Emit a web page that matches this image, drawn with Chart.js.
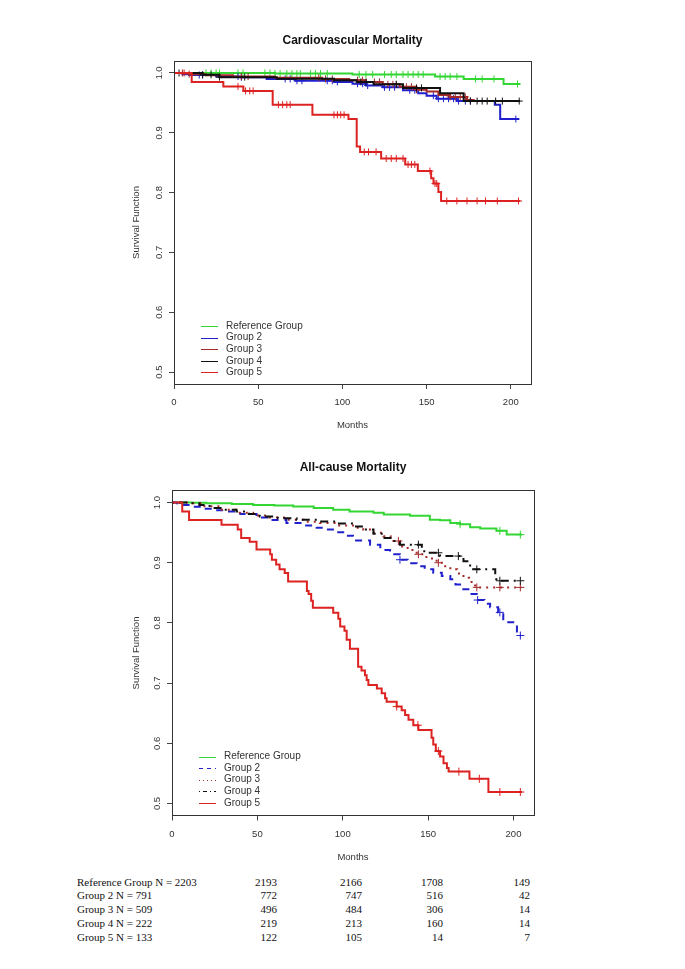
<!DOCTYPE html>
<html>
<head>
<meta charset="utf-8">
<title>Survival curves</title>
<script src="https://cdn.jsdelivr.net/npm/chart.js@4.4.1/dist/chart.umd.min.js"></script>
<style>
  body { margin: 0; background: #fff; }
  #page { position: relative; width: 685px; height: 969px; overflow: hidden; background: #fff; }
  canvas { position: absolute; left: 0; }
  #cv { top: 0; }
  #all { top: 440px; }
  #risk { position: absolute; left: 0; top: 875.6px; width: 685px; font: 11px "Liberation Serif", "Times New Roman", serif; color: #111; }
  .row { position: relative; height: 13.75px; line-height: 13.75px; }
  .row span { position: absolute; top: 0; white-space: nowrap; }
</style>
</head>
<body>
<div id="page">
  <canvas id="cv" width="685" height="440"></canvas>
  <canvas id="all" width="685" height="430"></canvas>
  <div id="risk"></div>
</div>
<script>
Chart.defaults.font.family = '"Liberation Sans", Arial, Helvetica, sans-serif';
Chart.defaults.color = '#333';

const groupNames = ["Reference Group", "Group 2", "Group 3", "Group 4", "Group 5"];
const groupColors = ["#33d633", "#2020cc", "#a52a2a", "#111111", "#dd2222"];
const monthTicks = [0, 50, 100, 150, 200];
const survTicks = [0.5, 0.6, 0.7, 0.8, 0.9, 1.0];

// Cardiovascular mortality: [month, survival after the drop]
const cvRef = [[0, 1], [60, 0.999], [106, 0.9975], [155, 0.994], [172, 0.990], [195.7, 0.9815], [205.5, 0.9815]];
const cvG2 = [[0, 1], [5, 0.998], [9, 0.9966], [25, 0.994], [40, 0.9927], [55, 0.990], [72, 0.987], [95, 0.985], [106, 0.982],
  [114, 0.979], [124, 0.976], [136, 0.971], [145, 0.966], [150, 0.962], [156, 0.957], [168, 0.953], [190.5, 0.947], [193.7, 0.923], [205, 0.923]];
const cvG3 = [[0, 1], [9, 0.998], [19, 0.996], [35, 0.994], [60, 0.992], [88, 0.990], [104, 0.988], [114, 0.985], [124, 0.981],
  [134, 0.977], [144, 0.972], [150, 0.969], [157, 0.963], [164, 0.960], [174, 0.955], [178, 0.953], [205, 0.953]];
const cvG4 = [[0, 1], [17, 0.997], [27, 0.993], [61, 0.9905], [95, 0.988], [108.5, 0.985], [118.5, 0.981], [136, 0.975],
  [158, 0.966], [172, 0.953], [205.5, 0.953]];
const cvG5 = [[0, 1], [10.5, 0.985], [29.3, 0.9775], [41.2, 0.970], [58.6, 0.947], [82.2, 0.930], [103.6, 0.923], [108.5, 0.877],
  [110.5, 0.868], [123, 0.857], [137.3, 0.847], [144.8, 0.836], [152.7, 0.824], [154.1, 0.815], [157, 0.801], [158.6, 0.786], [205.6, 0.786]];

// censored months (cardiovascular)
const cvRefCens = [19, 22, 25, 27, 38, 41, 54, 57, 60, 63, 67, 70, 73, 75, 81, 84, 87, 91, 110, 114, 118, 125, 129, 132,
  136, 139, 142, 145, 148, 158, 161, 164, 168, 179, 183, 190, 204];
const cvG2Cens = [15, 17, 38, 40, 66, 69, 73, 76, 91, 94, 97, 109, 112, 115, 125, 128, 131, 140, 143, 154, 157, 160, 163, 166, 169, 173, 176, 203];
const cvG3Cens = [5, 9, 40, 44, 86, 90, 94, 109, 112, 119, 122, 127, 130, 132, 138, 141, 144, 164, 167, 170, 173];
const cvG4Cens = [3, 17, 22, 27, 42, 111, 114, 132, 144, 147, 176, 180, 183, 186, 191, 195, 205];
const cvG5Cens = [6, 38, 42.5, 45, 47, 62, 64.5, 67, 69, 95, 97, 99, 101, 113, 115.5, 120, 126, 129, 132, 136, 139, 141, 143,
  152, 155, 156, 162, 168, 174, 180, 185, 192, 204.6];

// All-cause mortality
const acRef = [[0, 1], [12, 0.9995], [20, 0.999], [35, 0.9975], [47.5, 0.996], [60, 0.995], [71, 0.9934], [83, 0.991], [94.4, 0.988],
  [104, 0.985], [118, 0.983], [124, 0.980], [139.4, 0.978], [151, 0.9714], [157, 0.9705], [163, 0.966], [168.7, 0.964],
  [174.6, 0.9588], [180.5, 0.957], [190, 0.953], [196, 0.9467], [205, 0.9467]];
const acG2 = [[0, 1], [3, 0.999], [6.5, 0.996], [12, 0.993], [18, 0.9896], [25, 0.987], [32, 0.985], [40, 0.981], [49.5, 0.975],
  [58, 0.971], [67, 0.966], [76, 0.962], [84.7, 0.958], [90, 0.955], [96.4, 0.9505], [101, 0.945], [106, 0.937], [116, 0.930],
  [122, 0.921], [127.7, 0.914], [133.5, 0.905], [138, 0.899], [143.3, 0.894], [148, 0.889], [153, 0.8835], [158, 0.878],
  [163, 0.8725], [166, 0.864], [168.7, 0.856], [174.6, 0.848], [178.5, 0.838], [183, 0.832], [186.3, 0.826], [191, 0.8175],
  [194, 0.801], [202, 0.779], [204.3, 0.779]];
const acG3 = [[0, 1], [10, 0.999], [18, 0.994], [28, 0.988], [38, 0.983], [47.5, 0.9785], [57, 0.975], [67, 0.9714], [77, 0.968],
  [86.6, 0.966], [96, 0.962], [106, 0.958], [112, 0.955], [118, 0.950], [123.8, 0.944], [128, 0.936], [133.5, 0.927],
  [138, 0.921], [143.3, 0.914], [149, 0.907], [155, 0.900], [160, 0.894], [163, 0.889], [167, 0.882], [170.7, 0.875],
  [174, 0.868], [177.5, 0.859], [204.6, 0.859]];
const acG4 = [[0, 1], [10, 0.999], [16, 0.996], [22, 0.991], [30, 0.988], [37.8, 0.985], [45, 0.981], [51.4, 0.977], [62, 0.974],
  [73, 0.9714], [86.6, 0.9687], [96, 0.965], [106, 0.960], [112, 0.955], [118, 0.948], [123.8, 0.941], [128, 0.936],
  [133.5, 0.930], [146.3, 0.919], [149, 0.9165], [157, 0.911], [170.7, 0.9026], [174.6, 0.889], [189.3, 0.8725],
  [190, 0.870], [204.3, 0.870]];
const acG5 = [[0, 1], [6, 0.985], [10, 0.971], [29, 0.963], [38.5, 0.955], [40.5, 0.941], [45.5, 0.935], [49.5, 0.922],
  [57.5, 0.914], [58.5, 0.905], [61, 0.897], [63, 0.889], [66, 0.883], [68, 0.869], [79, 0.853], [80, 0.848], [81.5, 0.837],
  [82.5, 0.825], [94.4, 0.817], [97.4, 0.807], [98.5, 0.794], [101, 0.787], [102.3, 0.772], [104.2, 0.757], [109, 0.727],
  [111, 0.721], [113, 0.713], [114, 0.705], [115, 0.697], [120, 0.691], [122.8, 0.683], [124.8, 0.675], [125.7, 0.669],
  [131.6, 0.661], [134.5, 0.655], [136.5, 0.647], [138.5, 0.639], [141.3, 0.630], [144.3, 0.622], [152, 0.609], [153, 0.598],
  [154.5, 0.587], [157, 0.578], [159, 0.567], [161, 0.559], [162, 0.553], [174.2, 0.541], [185.3, 0.519], [205, 0.519]];

const acRefCens = [168.7, 192, 204];
const acG2Cens = [133.5, 179, 192, 204];
const acG3Cens = [132.6, 144.3, 156, 178.5, 192, 204];
const acG4Cens = [144.3, 156, 167.7, 178.5, 192, 204];
const acG5Cens = [131.6, 144, 156, 168, 180, 192, 204];

// numbers at risk
const riskLabels = ["Reference Group N = 2203", "Group 2 N = 791", "Group 3 N = 509", "Group 4 N = 222", "Group 5 N = 133"];
const riskCounts = [[2193, 2166, 1708, 149], [772, 747, 516, 42], [496, 484, 306, 14], [219, 213, 160, 14], [122, 105, 14, 7]];
const riskColRight = [277, 362, 443, 530];

function survAt(curve, t) {
    let s = 1;
    for (const [m, v] of curve) {
        if (m <= t) s = v; else break;
    }
    return s;
}

function buildDatasets(curves, cens, dashes, markSize) {
    const out = [];
    curves.forEach((c, i) => {
        out.push({
            label: groupNames[i],
            data: c.map(p => ({ x: p[0], y: p[1] })),
            borderColor: groupColors[i],
            borderWidth: 2,
            borderDash: dashes[i],
            stepped: "before",
            pointRadius: 0,
            fill: false,
            order: (5 - i) * 2
        });
        out.push({
            label: "",
            data: cens[i].map(t => ({ x: t, y: survAt(c, t) })),
            showLine: false,
            pointStyle: "cross",
            pointRadius: markSize,
            pointBorderWidth: 1,
            pointBorderColor: groupColors[i],
            borderColor: groupColors[i],
            order: (5 - i) * 2 - 1
        });
    });
    return out;
}

const framePlugin = {
    id: "frame",
    afterDraw(chart) {
        const { ctx, chartArea: a, scales: { y } } = chart;
        ctx.save();
        ctx.strokeStyle = "#333";
        ctx.lineWidth = 1;
        ctx.strokeRect(Math.round(a.left) + 0.5, Math.round(a.top) + 0.5, Math.round(a.right - a.left), Math.round(a.bottom - a.top));
        ctx.fillStyle = "#333";
        ctx.font = '9.5px "Liberation Sans", Arial, sans-serif';
        ctx.textAlign = "center";
        ctx.textBaseline = "middle";
        y.ticks.forEach(t => {
            ctx.save();
            ctx.translate(a.left - 14.5, y.getPixelForValue(t.value));
            ctx.rotate(-Math.PI / 2);
            ctx.fillText(t.value.toFixed(1), 0, 0);
            ctx.restore();
        });
        ctx.restore();
    }
};

const legendPlugin = {
    id: "rlegend",
    afterDatasetsDraw(chart, args, opts) {
        const { ctx, chartArea: a } = chart;
        ctx.save();
        ctx.font = '10px "Liberation Sans", Arial, sans-serif';
        ctx.textBaseline = "middle";
        groupNames.forEach((name, i) => {
            const y = a.bottom - opts.fromBottom + i * 11.6;
            ctx.strokeStyle = groupColors[i];
            ctx.lineWidth = 1;
            ctx.setLineDash(opts.dashes[i]);
            ctx.beginPath();
            ctx.moveTo(a.left + 27, Math.round(y) + 0.5);
            ctx.lineTo(a.left + 44, Math.round(y) + 0.5);
            ctx.stroke();
            ctx.setLineDash([]);
            ctx.fillStyle = "#333";
            ctx.fillText(name, a.left + 52, y);
        });
        ctx.restore();
    }
};

function makeChart(id, o) {
    return new Chart(document.getElementById(id), {
        type: "line",
        data: { datasets: buildDatasets(o.curves, o.cens, o.dashes, o.mark) },
        options: {
            responsive: false,
            animation: false,
            events: [],
            layout: { padding: { left: 0, right: o.padRight, top: 0, bottom: 0 } },
            plugins: {
                legend: { display: false },
                tooltip: { enabled: false },
                title: {
                    display: true,
                    text: o.title,
                    fullSize: false,
                    color: "#111",
                    font: { size: 12, weight: "bold" },
                    padding: o.titlePad
                },
                rlegend: { dashes: o.legendDashes, fromBottom: o.legendBottom }
            },
            scales: {
                x: {
                    type: "linear",
                    min: 0,
                    max: 212,
                    afterBuildTicks: s => { s.ticks = monthTicks.map(v => ({ value: v })); },
                    afterFit: s => { s.height = o.xHeight; },
                    grid: { display: true, drawOnChartArea: false, drawTicks: true, tickLength: 5, color: "#444" },
                    border: { display: false },
                    ticks: { font: { size: 9.5 }, color: "#333", padding: o.xTickPad, maxRotation: 0, autoSkip: false },
                    title: { display: true, text: "Months", color: "#333", font: { size: 9.5 }, padding: { top: 0, bottom: o.xTitlePad } }
                },
                y: {
                    type: "linear",
                    min: 0.48,
                    max: 1.02,
                    afterBuildTicks: s => { s.ticks = survTicks.map(v => ({ value: v })); },
                    afterFit: s => { s.width = o.yWidth; },
                    grid: { display: true, drawOnChartArea: false, drawTicks: true, tickLength: 5, color: "#444" },
                    border: { display: false },
                    ticks: { display: false },
                    title: { display: true, text: "Survival Function", color: "#333", font: { size: 9.5 }, padding: { top: o.yTitlePad, bottom: 0 } }
                }
            }
        },
        plugins: [framePlugin, legendPlugin]
    });
}

makeChart("cv", {
    title: "Cardiovascular Mortality",
    curves: [cvRef, cvG2, cvG3, cvG4, cvG5],
    cens: [cvRefCens, cvG2Cens, cvG3Cens, cvG4Cens, cvG5Cens],
    dashes: [[], [], [], [], []],
    legendDashes: [[], [], [], [], []],
    legendBottom: 58,
    mark: 3.5,
    padRight: 154,
    titlePad: { top: 33, bottom: 13.6 },
    xHeight: 56,
    xTickPad: 7.6,
    xTitlePad: 9.3,
    yWidth: 174,
    yTitlePad: 131
});

makeChart("all", {
    title: "All-cause Mortality",
    curves: [acRef, acG2, acG3, acG4, acG5],
    cens: [acRefCens, acG2Cens, acG3Cens, acG4Cens, acG5Cens],
    dashes: [[], [7, 6], [2, 5], [2, 5, 8, 5], []],
    legendDashes: [[], [4, 4], [1, 3], [1, 3, 4, 3], []],
    legendBottom: 59,
    mark: 4,
    padRight: 151,
    titlePad: { top: 20.4, bottom: 15.7 },
    xHeight: 54.5,
    xTickPad: 8,
    xTitlePad: 6.5,
    yWidth: 172,
    yTitlePad: 130.3
});

const risk = document.getElementById("risk");
riskLabels.forEach((label, i) => {
    const row = document.createElement("div");
    row.className = "row";
    let html = '<span style="left:77px">' + label + "</span>";
    riskCounts[i].forEach((n, j) => {
        html += '<span style="right:' + (685 - riskColRight[j]) + 'px">' + n + "</span>";
    });
    row.innerHTML = html;
    risk.appendChild(row);
});
</script>
</body>
</html>
